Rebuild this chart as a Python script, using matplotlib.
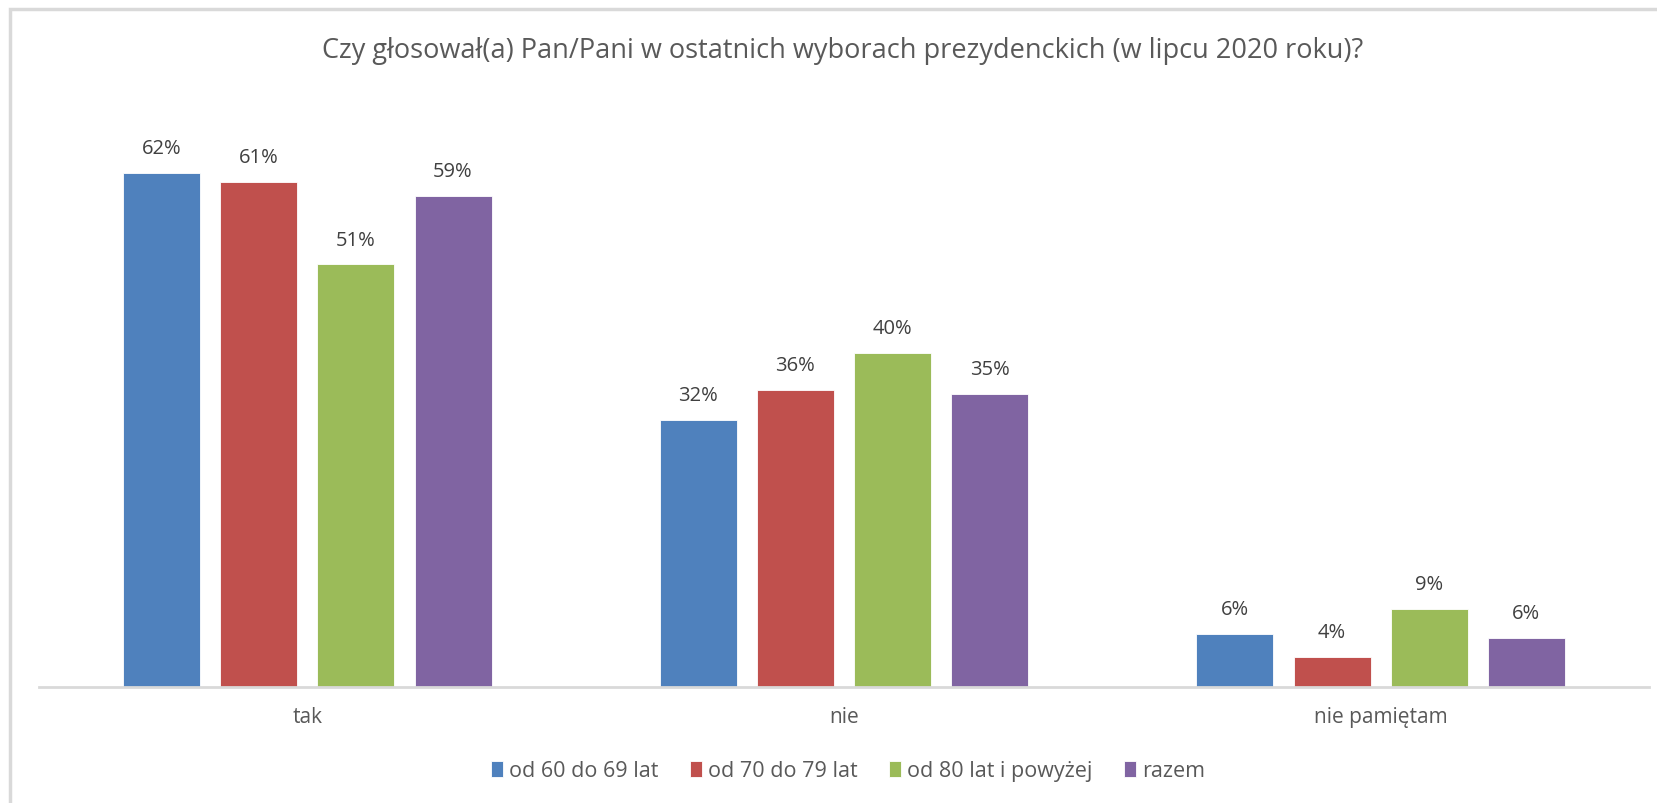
import numpy as np
import matplotlib.pyplot as plt
from matplotlib.patches import Rectangle

plt.rcParams['font.family'] = ['Open Sans', 'DejaVu Sans']

categories = ["tak", "nie", "nie pamiętam"]
series = ["od 60 do 69 lat", "od 70 do 79 lat", "od 80 lat i powyżej", "razem"]
values = {
    "od 60 do 69 lat": [62.0, 32.2, 6.4],
    "od 70 do 79 lat": [61.0, 35.9, 3.6],
    "od 80 lat i powyżej": [51.0, 40.3, 9.4],
    "razem": [59.3, 35.4, 5.9],
}
colors = ["#4F81BD", "#C0504D", "#9BBB59", "#8064A2"]
title = "Czy głosował(a) Pan/Pani w ostatnich wyborach prezydenckich (w lipcu 2020 roku)?"

W, H = 1658, 804
fig = plt.figure(figsize=(W / 100, H / 100), dpi=100)
ax = fig.add_axes([39 / W, 116 / H, 1610 / W, 580 / H])

text_col = "#595959"
x = np.arange(len(categories))
width = 0.1435
step = 0.181
for i, s in enumerate(series):
    pos = x + (i - 1.5) * step
    bars = ax.bar(pos, values[s], width, color=colors[i], label=s,
                  edgecolor="white", linewidth=0.6)
    for b, v in zip(bars, values[s]):
        ax.text(b.get_x() + b.get_width() / 2, v + 1.8, f"{v:.0f}%",
                ha="center", va="bottom", fontsize=14.5, color="#404040")

ax.set_xlim(-0.5, 2.5)
ax.set_ylim(0, 70)
ax.set_yticks([])
ax.set_xticks(x)
ax.set_xticklabels(categories, fontsize=15, color=text_col)
ax.tick_params(axis="x", length=0, pad=14)
for sp in ["top", "left", "right"]:
    ax.spines[sp].set_visible(False)
ax.spines["bottom"].set_color("#d9d9d9")
ax.spines["bottom"].set_linewidth(2)

fig.text(843 / W, 1 - 51 / H, title, ha="center", va="center",
         fontsize=19.5, color=text_col)

leg = fig.legend(loc="center", bbox_to_anchor=(848 / W, 1 - 772 / H), ncol=4,
                 frameon=False, fontsize=15.5, handlelength=0.55, handleheight=0.75,
                 handletextpad=0.3, columnspacing=1.45)
for t in leg.get_texts():
    t.set_color(text_col)

# chart border (light gray, runs off right and bottom)
fig.patches.append(Rectangle((10 / W, -0.1), 1.2, 1 - 10 / H + 0.1,
                             transform=fig.transFigure, fill=False,
                             edgecolor="#d9d9d9", linewidth=2.5))

fig.savefig("out.png", dpi=100)
